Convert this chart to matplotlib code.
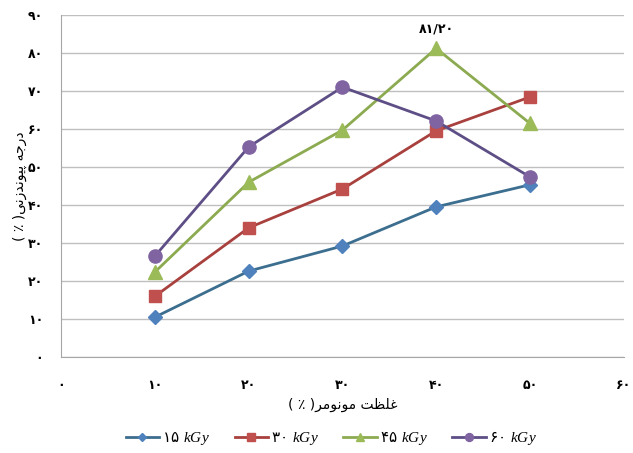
import matplotlib
matplotlib.use("Agg")
import matplotlib.pyplot as plt

plt.rcParams["font.family"] = ["DejaVu Sans"]
plt.rcParams["mathtext.fontset"] = "custom"
plt.rcParams["mathtext.it"] = "Liberation Serif:italic"
plt.rcParams["mathtext.rm"] = "Liberation Serif"

# Data
concentration = [10, 20, 30, 40, 50]
g15 = [10.5, 22.6, 29.2, 39.5, 45.3]
g30 = [16.0, 34.0, 44.2, 59.5, 68.4]
g45 = [22.4, 46.0, 59.7, 81.2, 61.5]
g60 = [26.6, 55.3, 71.0, 62.1, 47.4]
doses = ["۱۵", "۳۰", "۴۵", "۶۰"]
peak_label = "۸۱/۲۰"

xticks = [0, 10, 20, 30, 40, 50, 60]
yticks = [0, 10, 20, 30, 40, 50, 60, 70, 80, 90]

# Arabic presentation forms: isolated, final, initial, medial (None = no left join)
FORMS = {
    "ا": (0xFE8D, 0xFE8E, None, None),
    "پ": (0xFB56, 0xFB57, 0xFB58, 0xFB59),
    "ت": (0xFE95, 0xFE96, 0xFE97, 0xFE98),
    "ج": (0xFE9D, 0xFE9E, 0xFE9F, 0xFEA0),
    "د": (0xFEA9, 0xFEAA, None, None),
    "ر": (0xFEAD, 0xFEAE, None, None),
    "ز": (0xFEAF, 0xFEB0, None, None),
    "ظ": (0xFEC5, 0xFEC6, 0xFEC7, 0xFEC8),
    "غ": (0xFECD, 0xFECE, 0xFECF, 0xFED0),
    "ل": (0xFEDD, 0xFEDE, 0xFEDF, 0xFEE0),
    "م": (0xFEE1, 0xFEE2, 0xFEE3, 0xFEE4),
    "ن": (0xFEE5, 0xFEE6, 0xFEE7, 0xFEE8),
    "ه": (0xFEE9, 0xFEEA, 0xFEEB, 0xFEEC),
    "و": (0xFEED, 0xFEEE, None, None),
    "ی": (0xFBFC, 0xFBFD, 0xFBFE, 0xFBFF),
}


def shape_word(word):
    out = []
    for i, ch in enumerate(word):
        f = FORMS.get(ch)
        if f is None:
            out.append(ch)
            continue
        prev = word[i - 1] if i > 0 else None
        nxt = word[i + 1] if i + 1 < len(word) else None
        join_prev = prev in FORMS and FORMS[prev][2] is not None
        join_next = nxt in FORMS and f[2] is not None
        if join_prev and join_next:
            code = f[3]
        elif join_prev:
            code = f[1]
        elif join_next:
            code = f[2]
        else:
            code = f[0]
        out.append(chr(code))
    return "".join(out)


def rtl(text):
    # shape each word and lay the words out right to left
    words = [shape_word(w)[::-1] for w in text.split(" ")]
    return " ".join(words[::-1])


xlabel = "( ٪ )" + rtl("غلظت مونومر")
ylabel = "( ٪ )" + rtl("درجه پیوندزنی")


def fa(n):
    return str(n).translate(str.maketrans("0123456789", "۰۱۲۳۴۵۶۷۸۹"))


fig = plt.figure(figsize=(6.33, 4.53), dpi=100)
ax = fig.add_axes([0.097, 0.212, 0.888, 0.755])

series = [
    (g15, "D", "#4F81BD", "#3C6E8F", 7),
    (g30, "s", "#C0504D", "#A8403D", 8.5),
    (g45, "^", "#9BBB59", "#8CAA50", 9.5),
    (g60, "o", "#8064A2", "#5E4E86", 9.5),
]
for (vals, mk, mc, lc, ms), d in zip(series, doses):
    ax.plot(concentration, vals, color=lc, lw=2.0, marker=mk, ms=ms,
            markerfacecolor=mc, markeredgecolor=mc,
            label=d + r" $kGy$")

ax.annotate(peak_label, (40, g45[3]), xytext=(0, 9), textcoords="offset points",
            ha="center", va="bottom", fontsize=9, fontweight="bold")

ax.set_xlim(0, 60)
ax.set_ylim(0, 90)
ax.set_xticks(xticks)
ax.set_yticks(yticks)
ax.set_xticklabels([fa(v) for v in xticks], fontsize=9, fontweight="bold")
ax.set_yticklabels([fa(v) for v in yticks], fontsize=9, fontweight="bold")
ax.tick_params(axis="both", length=0)
ax.tick_params(axis="x", pad=16)
ax.tick_params(axis="y", pad=13)
ax.yaxis.grid(True, color="#BFBFBF", lw=1.0)
ax.set_axisbelow(True)
for s in ["top", "right"]:
    ax.spines[s].set_visible(False)
ax.spines["left"].set_color("#A6A6A6")
ax.spines["bottom"].set_color("#A6A6A6")

ax.set_xlabel(xlabel, fontsize=10, labelpad=4)
ax.set_ylabel(ylabel, fontsize=10, labelpad=1)

ax.legend(loc="upper center", bbox_to_anchor=(0.48, -0.17), ncol=4, frameon=False,
          fontsize=11, handlelength=2.2, columnspacing=1.6, handletextpad=0.2,
          markerscale=0.6)

fig.savefig("out.png", dpi=100)
